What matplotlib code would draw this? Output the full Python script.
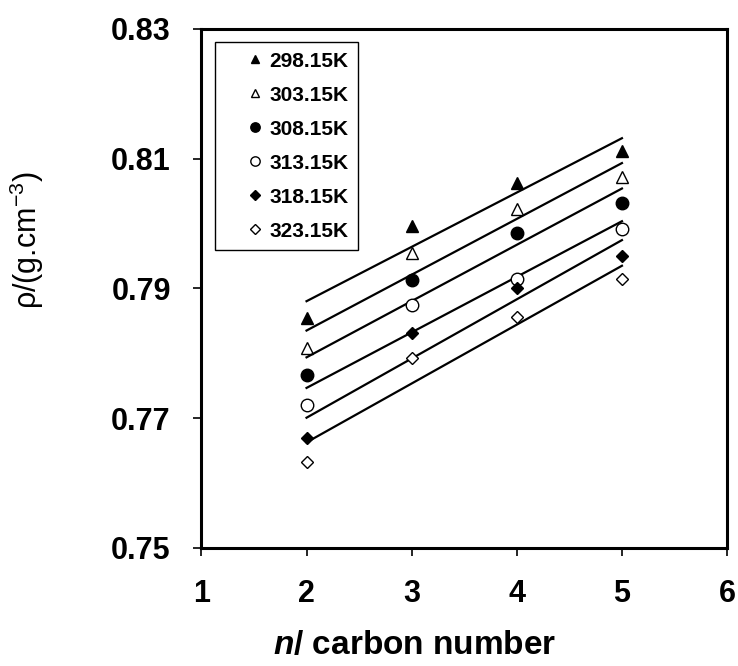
import matplotlib.pyplot as plt
import numpy as np

plt.rcParams["font.family"] = ["Liberation Sans", "DejaVu Sans"]
plt.rcParams["mathtext.fontset"] = "custom"
plt.rcParams["mathtext.rm"] = "Liberation Sans"
plt.rcParams["mathtext.it"] = "Liberation Sans:italic"
plt.rcParams["mathtext.bf"] = "Liberation Sans:bold"
plt.rcParams["mathtext.bfit"] = "Liberation Sans:italic:bold"

# data
carbon = [2, 3, 4, 5]
temps = ['298.15K', '303.15K', '308.15K', '313.15K', '318.15K', '323.15K']
rho_298 = [0.7854, 0.7996, 0.8062, 0.8111]
rho_303 = [0.7808, 0.7954, 0.8022, 0.8072]
rho_308 = [0.7766, 0.7913, 0.7985, 0.8031]
rho_313 = [0.7720, 0.7874, 0.7914, 0.7992]
rho_318 = [0.7669, 0.7831, 0.7900, 0.7950]
rho_323 = [0.7633, 0.7792, 0.7856, 0.7914]

series = [rho_298, rho_303, rho_308, rho_313, rho_318, rho_323]
markers = ['^', '^', 'o', 'o', 'D', 'D']
faces = ['black', 'white', 'black', 'white', 'black', 'white']
sizes = [8.5, 8.5, 9, 9, 6.5, 6.5]

fig = plt.figure(figsize=(7.38, 6.66), dpi=100)
ax = fig.add_axes([0.2729, 0.1772, 0.7123, 0.7797])

x = np.array(carbon)
for rho, lab, m, fc, ms in zip(series, temps, markers, faces, sizes):
    # linear fit line
    k, b = np.polyfit(x, rho, 1)
    ax.plot(x[[0, -1]], k * x[[0, -1]] + b, color='black', linewidth=1.6)
    ax.plot(x, rho, linestyle='none', marker=m, markersize=ms, markerfacecolor=fc,
            markeredgecolor='black', markeredgewidth=1.0, label=lab)

ax.set_xlim(1, 6)
ax.set_ylim(0.75, 0.83)
ax.set_xticks([1, 2, 3, 4, 5, 6])
ax.set_yticks([0.75, 0.77, 0.79, 0.81, 0.83])
ax.set_yticklabels(['0.75', '0.77', '0.79', '0.81', '0.83'])
ax.tick_params(direction='out', length=6, width=1.2, labelsize=22)
ax.tick_params(axis='y', pad=16)
ax.tick_params(axis='x', pad=16)
for t in ax.get_xticklabels() + ax.get_yticklabels():
    t.set_fontweight('bold')
for s in ax.spines.values():
    s.set_linewidth(2.2)

ax.set_xlabel(r'$\bfit{n}$/ carbon number', fontsize=24, fontweight='bold')
ax.xaxis.set_label_coords(0.406, -0.158)
ax.set_ylabel(r'ρ/(g.cm$^{-3}$)', fontsize=22)
ax.yaxis.set_label_coords(-0.295, 0.593)

leg = ax.legend(loc='upper left', bbox_to_anchor=(0.026, 0.974), borderaxespad=0,
                prop={'weight': 'bold', 'size': 15}, markerscale=0.75, handlelength=2.9,
                handletextpad=-0.75, labelspacing=0.72, fancybox=False, edgecolor='black',
                framealpha=1, borderpad=0.45)
leg.get_frame().set_linewidth(1.0)

fig.savefig('out.png', dpi=100)
